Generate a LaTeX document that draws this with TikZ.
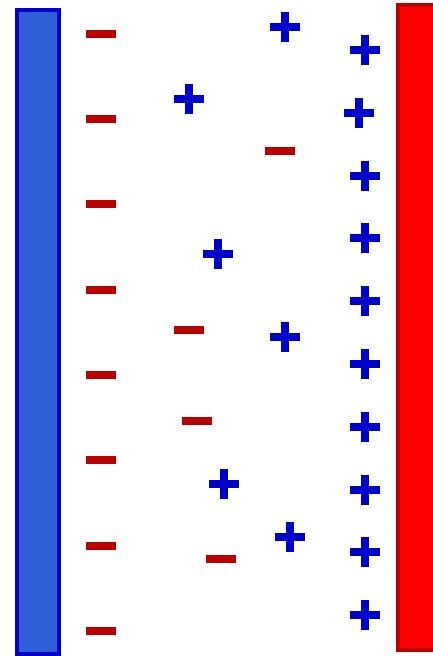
\documentclass[tikz,border=0pt]{standalone}
\definecolor{plateblue}{HTML}{2E5FD8}
\definecolor{plateblueedge}{HTML}{0000CC}
\definecolor{platered}{HTML}{FF0000}
\definecolor{plateredge}{HTML}{BB0000}
\definecolor{negcol}{HTML}{BB0000}
\definecolor{poscol}{HTML}{0000CC}
\tikzset{
  neg/.style={rectangle,fill=negcol,inner sep=0pt,minimum width=30pt,minimum height=8pt},
  plusbar/.style={rectangle,fill=poscol,inner sep=0pt},
  pics/posch/.style={code={
    \node[plusbar,minimum width=30pt,minimum height=8pt] (-h) at (0,0) {};
    \node[plusbar,minimum width=8pt,minimum height=30pt] (-v) at (0,0) {};
  }},
  bplate/.style={draw=plateblueedge,fill=plateblue,line width=4pt},
  rplate/.style={draw=plateredge,fill=platered,line width=4pt}
}
\begin{document}
\begin{tikzpicture}[x=1pt,y=-1pt]
\useasboundingbox (0,0) rectangle (433,656);
\draw[bplate] (17,10) rectangle (59,654);
\draw[rplate] (398,4.7) rectangle (445,650);
% left column of negative charges
\foreach \y [count=\i] in {34,119,204,290,375,460,546,631}
  \node[neg] (nl\i) at (101,\y) {};
% right column of positive charges
\foreach \x/\y [count=\i] in {365/50,359/113,365/176,365/238,365/301,365/364,365/427,365/490,365/552,365/615}
  \pic (pr\i) at (\x,\y) {posch};
% middle positive charges
\foreach \x/\y [count=\i] in {285/27,189/99,218/254,285/337,224/484,290/537}
  \pic (pm\i) at (\x,\y) {posch};
% middle negative charges
\foreach \x/\y [count=\i] in {280/151,189/330,197/421,221/559}
  \node[neg] (nm\i) at (\x,\y) {};
\end{tikzpicture}
\end{document}
